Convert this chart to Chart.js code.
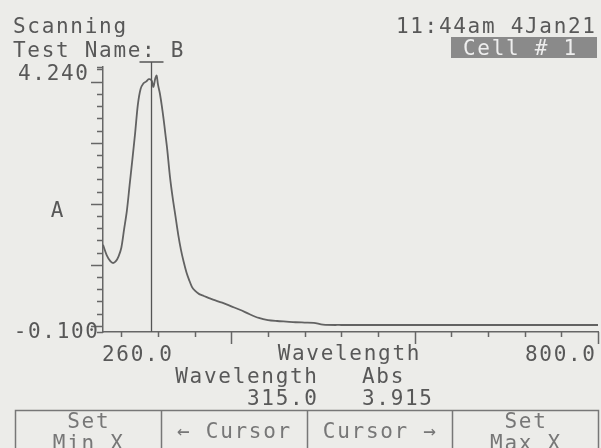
<!DOCTYPE html>
<html>
<head>
    <title>Scanning</title>
    <script src="https://cdn.jsdelivr.net/npm/chart.js"></script>
    <style>
        html, body { margin: 0; padding: 0; background: #ecece9; }
        canvas { display: block; }
    </style>
</head>
<body>
    <canvas id="scanChart" width="601" height="448"></canvas>

    <script>
        // spectrum
        const wavelengths = [260, 264, 268, 271, 274, 277, 280, 283, 286, 289, 292, 295, 298, 301, 304, 307, 310, 313, 315, 317, 318.5, 320, 322, 324, 326, 328, 330, 333, 336, 339, 342, 345, 348, 351, 354, 357, 360, 365, 370, 375, 380, 390, 400, 410, 420, 430, 440, 450, 460, 470, 480, 490, 500, 520, 550, 600, 650, 700, 750, 800];
        const absorbance  = [1.33, 1.16, 1.06, 1.03, 1.06, 1.14, 1.28, 1.58, 1.88, 2.30, 2.72, 3.15, 3.62, 3.88, 3.97, 4.00, 4.04, 4.02, 3.915, 4.05, 4.10, 3.95, 3.81, 3.62, 3.40, 3.15, 2.90, 2.45, 2.10, 1.80, 1.50, 1.25, 1.05, 0.88, 0.75, 0.64, 0.58, 0.52, 0.49, 0.46, 0.43, 0.38, 0.32, 0.26, 0.19, 0.13, 0.095, 0.08, 0.07, 0.06, 0.055, 0.05, 0.02, 0.015, 0.015, 0.015, 0.015, 0.015, 0.015, 0.015];

        const xMin = 260.0, xMax = 800.0;
        const yMin = -0.100, yMax = 4.240;
        const xTickValues = [280, 320, 360, 400, 440, 480, 520, 560, 600, 640, 680, 720, 760, 800];
        const xMajorTicks = [400, 600, 800];
        const yTickValues = [0, 0.2, 0.4, 0.6, 0.8, 1.0, 1.2, 1.4, 1.6, 1.8, 2.0, 2.2, 2.4, 2.6, 2.8, 3.0, 3.2, 3.4, 3.6, 3.8, 4.0, 4.2];
        const yMajorTicks = [0, 1, 2, 3, 4];

        const cursorWavelength = 315.0;
        const cursorAbs = 3.915;
        const buttonLabels = [['Set', 'Min X'], ['\u2190 Cursor'], ['Cursor \u2192'], ['Set', 'Max X']];

        const ink = '#585858';
        const FONT = '21px "DejaVu Sans Mono"';
        const SPACING = 1.7;

        function txt(ctx, s, x, y, align) {
            ctx.textAlign = align || 'left';
            if (align === 'right') x += SPACING;
            if (align === 'center') x += SPACING / 2;
            ctx.fillText(s, x, y);
        }

        const bgPlugin = {
            id: 'bg',
            beforeDraw(chart) {
                const c = chart.ctx;
                c.save();
                c.fillStyle = '#ecece9';
                c.fillRect(0, 0, chart.width, chart.height);
                c.restore();
            }
        };

        // everything the instrument screen prints around the plot
        const screenPlugin = {
            id: 'screen',
            afterDraw(chart) {
                const c = chart.ctx;
                const xs = chart.scales.x, ys = chart.scales.y;
                const area = chart.chartArea;
                c.save();
                c.strokeStyle = '#666';
                c.lineWidth = 1.5;

                // y ticks (to the left of the axis)
                yTickValues.concat([yMin, yMax]).forEach(v => {
                    const py = Math.round(ys.getPixelForValue(v)) + 0.5;
                    const len = yMajorTicks.includes(v) ? 12 : 6;
                    c.beginPath();
                    c.moveTo(area.left, py);
                    c.lineTo(area.left - len, py);
                    c.stroke();
                });
                // x ticks (below the axis)
                xTickValues.forEach(v => {
                    const px = Math.round(xs.getPixelForValue(v)) + 0.5;
                    const len = xMajorTicks.includes(v) ? 12 : 5;
                    c.beginPath();
                    c.moveTo(px, area.bottom);
                    c.lineTo(px, area.bottom + len);
                    c.stroke();
                });

                // cursor
                const cx = Math.round(xs.getPixelForValue(cursorWavelength)) - 1.5;
                c.strokeStyle = '#555';
                c.lineWidth = 1.3;
                c.beginPath();
                c.moveTo(cx, area.top - 5);
                c.lineTo(cx, area.bottom);
                c.moveTo(cx - 12, area.top - 5);
                c.lineTo(cx + 12, area.top - 5);
                c.stroke();

                c.font = FONT;
                c.letterSpacing = SPACING + 'px';
                c.fillStyle = ink;
                c.textBaseline = 'alphabetic';

                // header
                txt(c, 'Scanning', 13, 33);
                txt(c, 'Test Name: B', 13, 57);
                txt(c, '11:44am 4Jan21', 595, 33, 'right');
                c.fillStyle = '#8a8a8a';
                c.fillRect(451, 37, 146, 21);
                c.fillStyle = '#eeeeee';
                txt(c, 'Cell # 1', 463, 55);
                c.fillStyle = ink;

                // axis labels
                txt(c, yMax.toFixed(3), 88, 80, 'right');
                txt(c, yMin.toFixed(3), 98, 338, 'right');
                txt(c, 'A', 57, 217, 'center');
                txt(c, xMin.toFixed(1), 102, 361);
                txt(c, xMax.toFixed(1), 595, 361, 'right');
                txt(c, 'Wavelength', (area.left + area.right) / 2 - 2, 360, 'center');

                // cursor readout
                txt(c, 'Wavelength', 317, 383, 'right');
                txt(c, cursorWavelength.toFixed(1), 317, 405, 'right');
                txt(c, 'Abs', 362, 383);
                txt(c, cursorAbs.toFixed(3), 362, 405);

                // soft-key boxes
                const bx0 = 15, bx1 = 598, top = 410;
                const w = (bx1 - bx0) / buttonLabels.length;
                c.strokeStyle = '#777';
                c.lineWidth = 1.5;
                c.strokeRect(bx0 + 0.5, top + 0.5, bx1 - bx0, 60);
                c.fillStyle = '#777';
                buttonLabels.forEach((lines, i) => {
                    const x = bx0 + w * i;
                    if (i > 0) {
                        c.beginPath();
                        c.moveTo(Math.round(x) + 0.5, top);
                        c.lineTo(Math.round(x) + 0.5, 448);
                        c.stroke();
                    }
                    if (lines.length === 2) {
                        txt(c, lines[0], x + w / 2, 428, 'center');
                        txt(c, lines[1], x + w / 2, 450, 'center');
                    } else {
                        txt(c, lines[0], x + w / 2, 438, 'center');
                    }
                });
                c.restore();
            }
        };

        const ctx = document.getElementById('scanChart');
        new Chart(ctx, {
            type: 'line',
            data: {
                datasets: [{
                    data: wavelengths.map((w, i) => ({ x: w, y: absorbance[i] })),
                    borderColor: '#626262',
                    borderWidth: 1.8,
                    pointRadius: 0,
                    tension: 0.3,
                    fill: false
                }]
            },
            options: {
                responsive: false,
                animation: false,
                events: [],
                layout: { padding: { top: 67, right: 3, left: 0, bottom: 0 } },
                plugins: {
                    legend: { display: false },
                    tooltip: { enabled: false }
                },
                scales: {
                    x: {
                        type: 'linear',
                        min: xMin,
                        max: xMax,
                        ticks: { display: false },
                        grid: { display: false, drawTicks: false },
                        border: { color: '#666', width: 1.5 },
                        afterFit(scale) { scale.height = 116; }
                    },
                    y: {
                        type: 'linear',
                        min: yMin,
                        max: yMax,
                        ticks: { display: false },
                        grid: { display: false, drawTicks: false },
                        border: { color: '#666', width: 1.5 },
                        afterFit(scale) { scale.width = 103; }
                    }
                }
            },
            plugins: [bgPlugin, screenPlugin]
        });
    </script>
</body>
</html>
